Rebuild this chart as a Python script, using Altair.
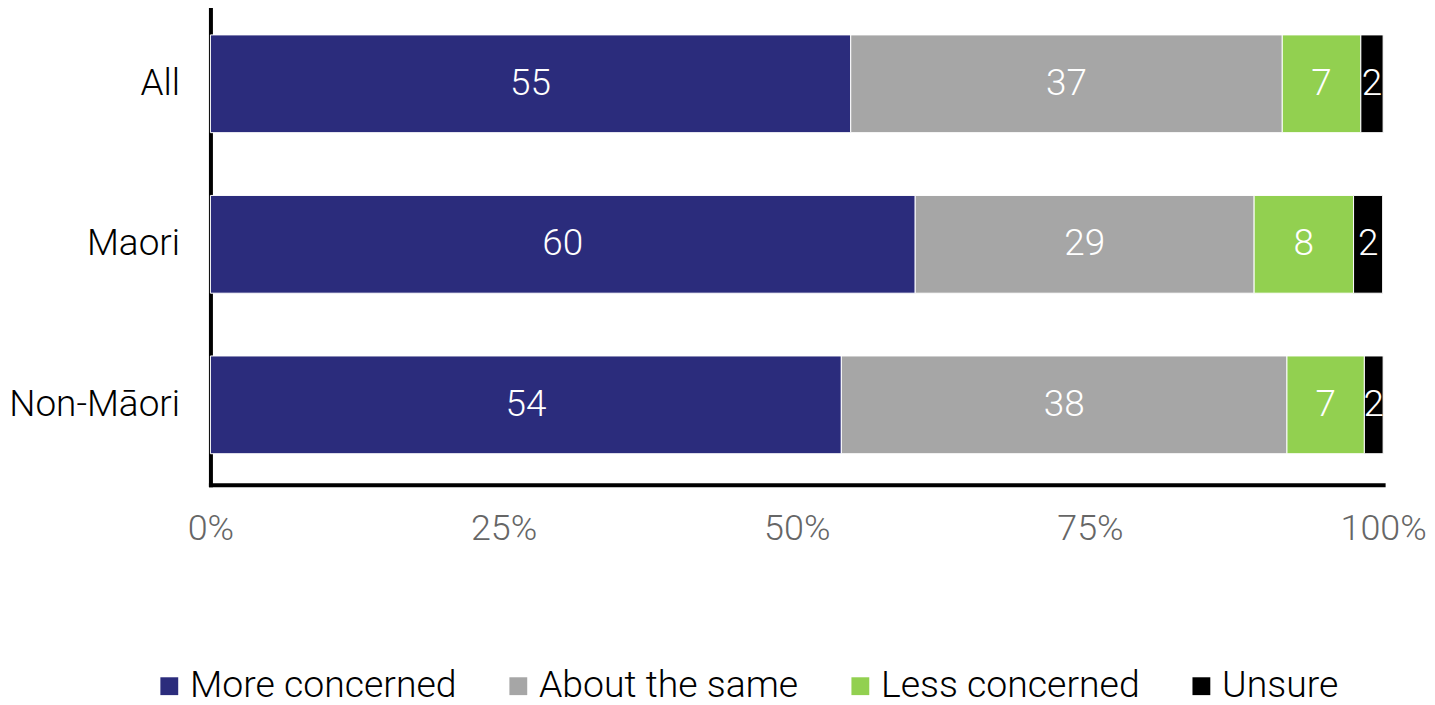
import altair as alt
import pandas as pd

groups = ["All", "Maori", "Non-Māori"]
responses = ["More concerned", "About the same", "Less concerned", "Unsure"]
colors = ["#2B2C7C", "#A6A6A6", "#92D050", "#000000"]
values = {
    "All": [54.6, 36.8, 6.7, 1.9],
    "Maori": [60.1, 28.9, 8.48, 2.48],
    "Non-Māori": [53.8, 38.0, 6.6, 1.6],
}
x_ticks = [0, 25, 50, 75, 100]

rows = []
for g in groups:
    for i, (r, v) in enumerate(zip(responses, values[g])):
        rows.append({"group": g, "response": r, "value": v, "order": i})
df = pd.DataFrame(rows)

FONT = "Roboto"
FS = 37

base = alt.Chart(df).transform_stack(
    stack="value", groupby=["group"], as_=["x0", "x1"],
    sort=[alt.SortField("order", order="ascending")]
).transform_calculate(mid="(datum.x0 + datum.x1) / 2")

y_enc = alt.Y(
    "group:N", sort=groups, title=None,
    scale=alt.Scale(paddingInner=0.391, paddingOuter=0.177, align=0.456),
    axis=alt.Axis(
        domain=True, domainColor="black", domainWidth=4, domainCap="square",
        ticks=False, labelFontSize=FS, labelColor="black", labelFont=FONT,
        labelFontWeight=300, labelPadding=31, labelLimit=400,
    ),
)

bars = base.mark_bar(stroke="white", strokeWidth=1).encode(
    x=alt.X(
        "x0:Q", title=None,
        scale=alt.Scale(domain=[0, 100], nice=False),
        axis=alt.Axis(
            values=x_ticks, labelExpr="datum.value + '%'",
            domain=True, domainColor="black", domainWidth=4, domainCap="square",
            ticks=False, grid=False, labelFontSize=36, labelColor="#666666",
            labelFont=FONT, labelFontWeight=300, labelPadding=27,
            labelFlush=False,
        ),
    ),
    x2="x1:Q",
    y=y_enc,
    color=alt.Color(
        "response:N", title=None,
        scale=alt.Scale(domain=responses, range=colors),
        sort=responses,
        legend=alt.Legend(
            orient="none", legendX=-60, legendY=660,
            direction="horizontal", symbolType="square",
            symbolSize=320, symbolStrokeWidth=0, labelFontSize=37.5,
            labelFont=FONT, labelFontWeight=300, labelColor="black",
            columnPadding=43, labelOffset=2, labelLimit=500,
            padding=0,
        ),
    ),
)

labels = base.mark_text(
    color="white", fontSize=FS, font=FONT, fontWeight=300,
    align="center", baseline="middle",
).encode(
    x=alt.X("mid:Q"),
    y=alt.Y("group:N", sort=groups),
    text=alt.Text("value:Q", format=".0f"),
)

chart = alt.layer(bars, labels).properties(
    width=1176, height=477,
    padding={"left": 0, "top": 0, "right": 0, "bottom": 0},
).configure_view(stroke=None)

chart.save("out.html", embed_options={"renderer": "svg", "actions": False})
